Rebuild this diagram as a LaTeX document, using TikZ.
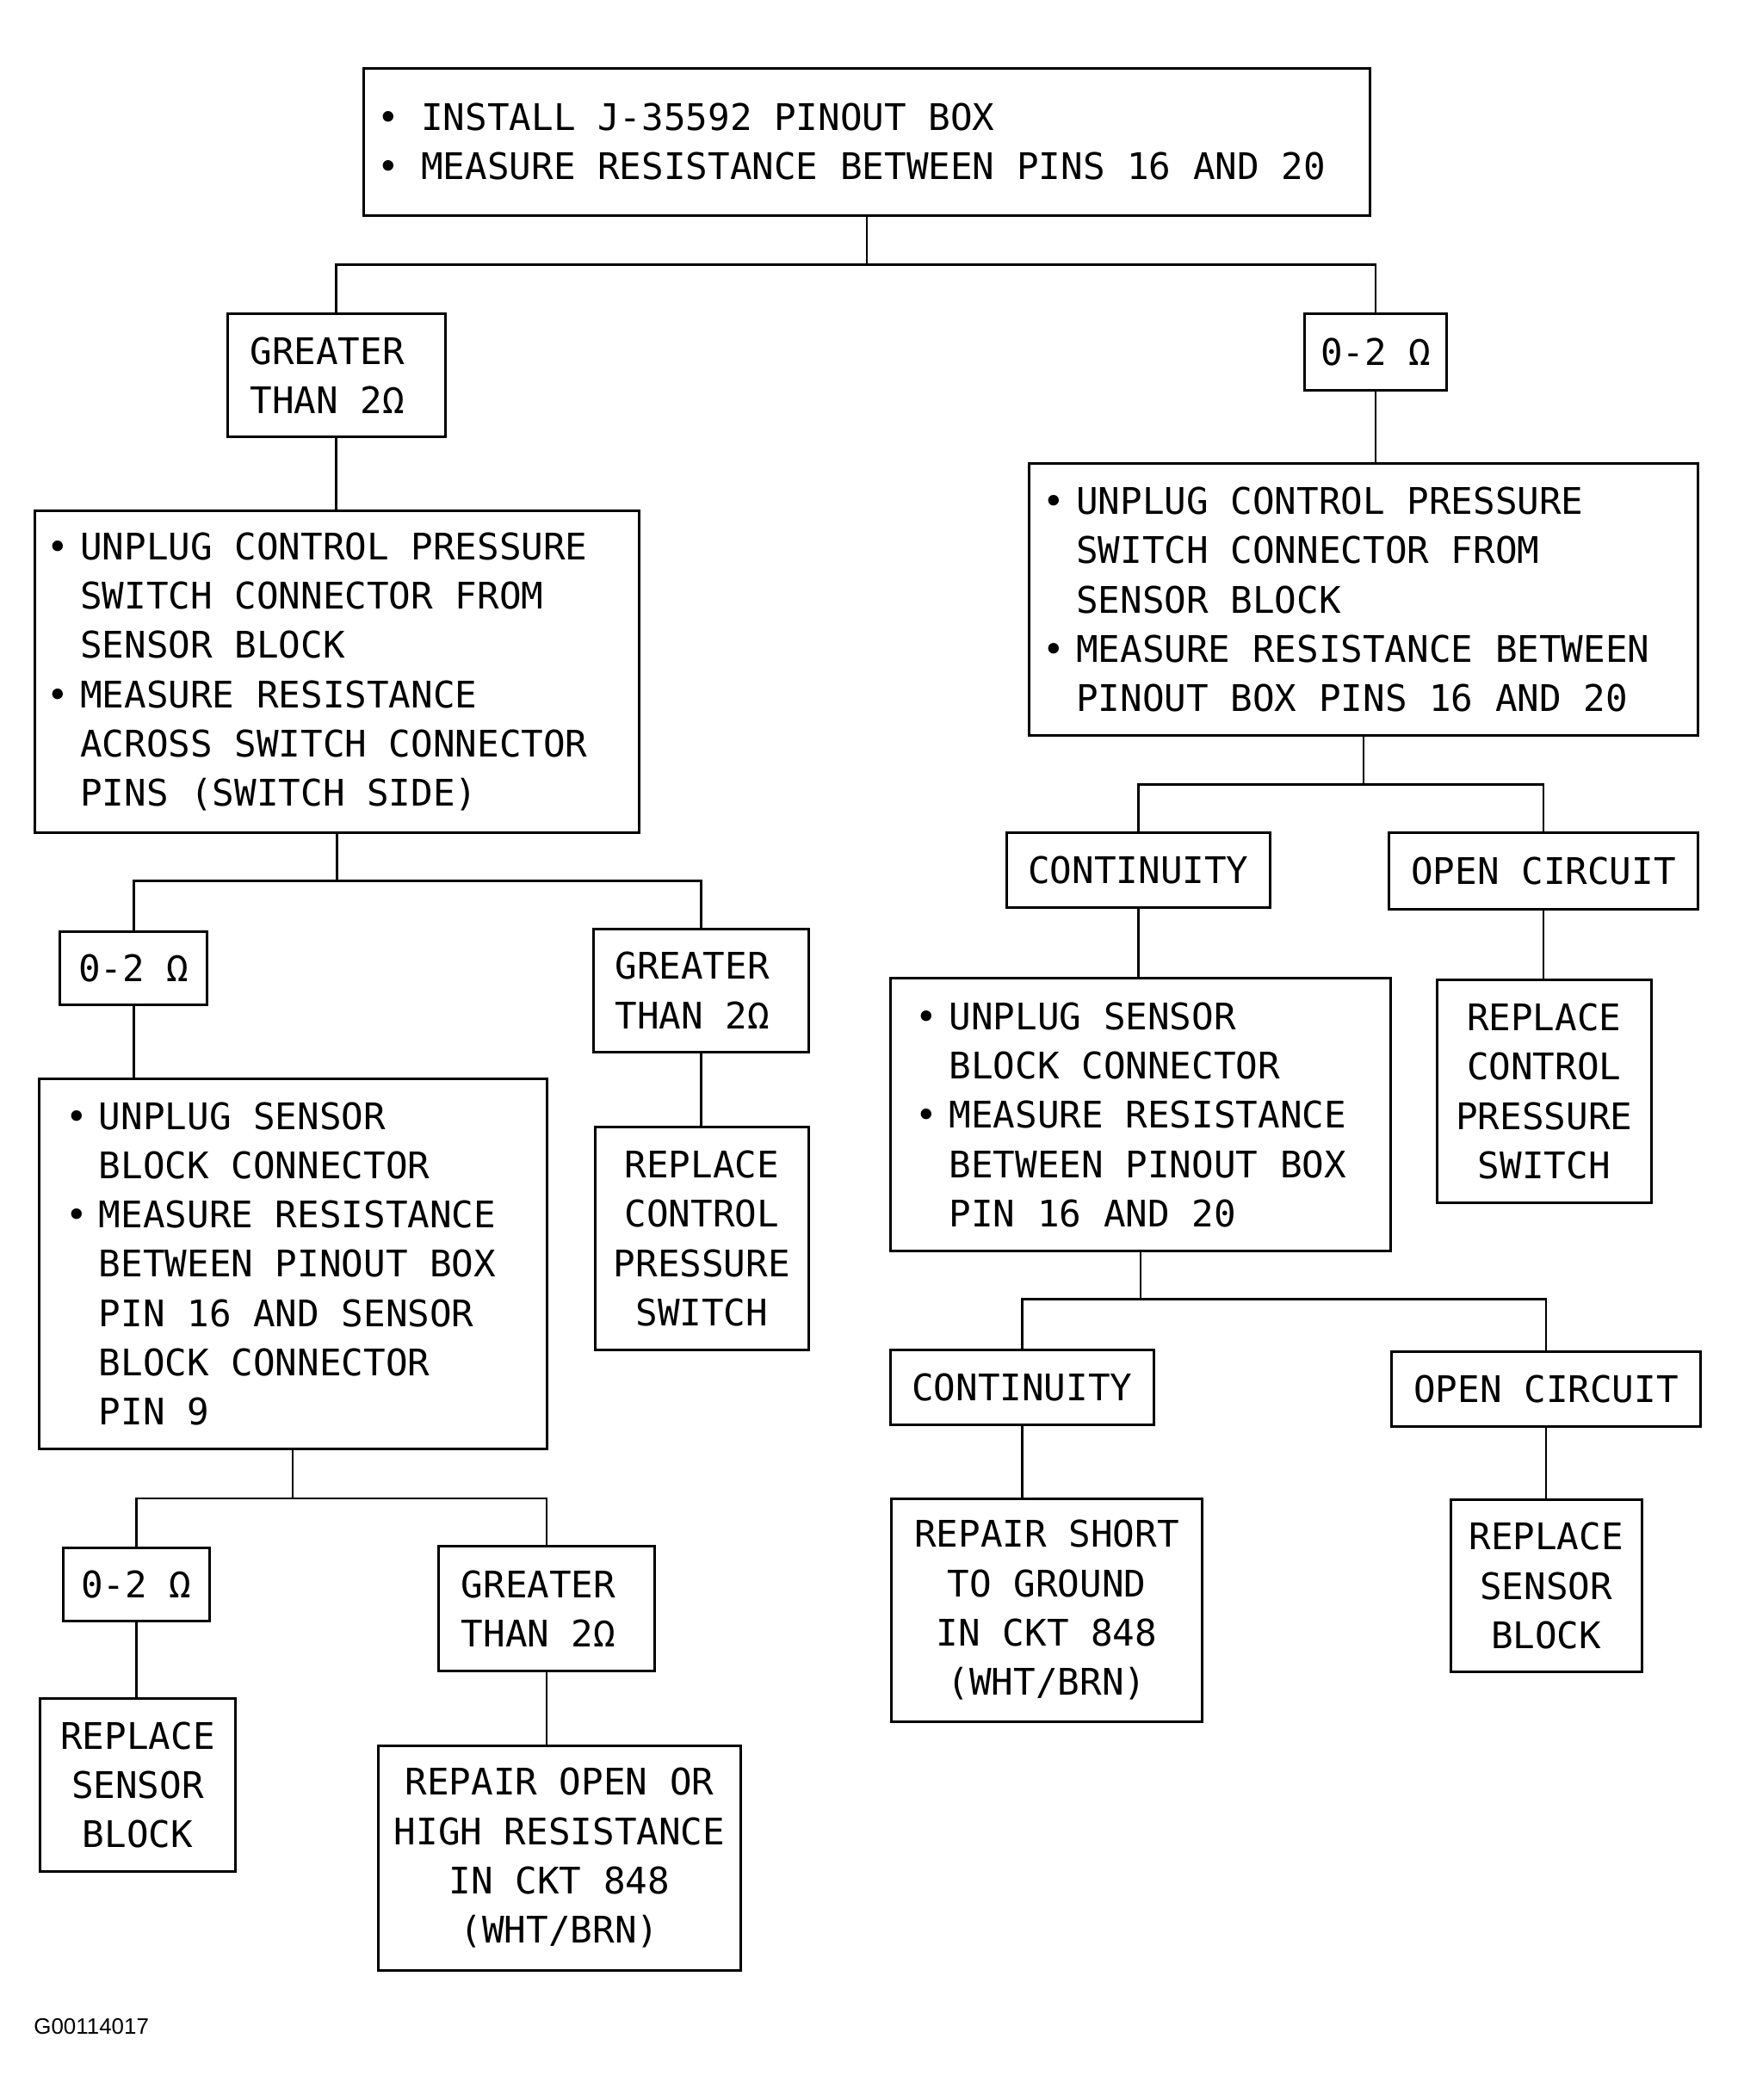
\documentclass[tikz,border=0pt]{standalone}
\usepackage{fontspec}
\setmainfont{DejaVu Sans Mono}
\newfontfamily\labelfont{Liberation Sans}
\newcommand\bul[1][0.5cm]{\makebox[#1][l]{•}}
\newcommand\indt[1][0.5cm]{\hspace*{#1}}
\tikzset{
  box/.style={draw, line width=1.1pt, inner sep=0pt, font=\fontsize{15.6}{21}\selectfont,
    execute at begin node={\spaceskip=0.602em\relax\xspaceskip=0.602em\relax}},
  link/.style={line width=0.9pt},
}
\begin{document}
\begin{tikzpicture}[x=0.02cm,y=-0.02cm]
  \useasboundingbox (0,0) rectangle (1300,1571.1);
  % top step
  \node[box, minimum width=15.06cm, minimum height=2.2cm, text width=14.66cm, align=left] (install) at (648.5,106)
    {\bul[0.66cm]INSTALL J-35592 PINOUT BOX\\ \bul[0.66cm]MEASURE RESISTANCE BETWEEN PINS 16 AND 20};
  \node[box, minimum width=3.26cm, minimum height=1.84cm, text width=2.58cm, align=left] (gtA) at (251.5,281) {GREATER\\THAN 2Ω};
  \node[box, minimum width=2.12cm, minimum height=1.14cm] (zeroA) at (1029,263.5) {0-2 Ω};
  % left branch
  \node[box, minimum width=9.04cm, minimum height=4.82cm, text width=8.68cm, align=left] (unplugL) at (252,502.5)
    {\bul UNPLUG CONTROL PRESSURE\\ \indt SWITCH CONNECTOR FROM\\ \indt SENSOR BLOCK\\
     \bul MEASURE RESISTANCE\\ \indt ACROSS SWITCH CONNECTOR\\ \indt PINS (SWITCH SIDE)};
  \node[box, minimum width=2.2cm, minimum height=1.1cm] (zeroB) at (100,724.5) {0-2 Ω};
  \node[box, minimum width=3.22cm, minimum height=1.84cm, text width=2.58cm, align=left] (gtB) at (524.5,741) {GREATER\\THAN 2Ω};
  \node[box, minimum width=3.2cm, minimum height=3.34cm, align=center] (switchL) at (525,926.5) {REPLACE\\CONTROL\\PRESSURE\\SWITCH};
  \node[box, minimum width=7.6cm, minimum height=5.54cm, text width=6.8cm, align=left] (sensorL) at (219,945.5)
    {\bul UNPLUG SENSOR\\ \indt BLOCK CONNECTOR\\ \bul MEASURE RESISTANCE\\ \indt BETWEEN PINOUT BOX\\
     \indt PIN 16 AND SENSOR\\ \indt BLOCK CONNECTOR\\ \indt PIN 9};
  \node[box, minimum width=2.2cm, minimum height=1.1cm] (zeroC) at (102,1185.5) {0-2 Ω};
  \node[box, minimum width=3.24cm, minimum height=1.86cm, text width=2.56cm, align=left] (gtC) at (409,1203.5) {GREATER\\THAN 2Ω};
  \node[box, minimum width=2.92cm, minimum height=2.58cm, align=center] (blockL) at (103,1335.5) {REPLACE\\SENSOR\\BLOCK};
  \node[box, minimum width=5.42cm, minimum height=3.36cm, align=center] (openL) at (418.5,1390)
    {REPAIR OPEN OR\\HIGH RESISTANCE\\IN CKT 848\\(WHT/BRN)};
  % right branch
  \node[box, minimum width=10cm, minimum height=4.06cm, text width=9.6cm, align=left] (unplugR) at (1020,448.5)
    {\bul UNPLUG CONTROL PRESSURE\\ \indt SWITCH CONNECTOR FROM\\ \indt SENSOR BLOCK\\
     \bul MEASURE RESISTANCE BETWEEN\\ \indt PINOUT BOX PINS 16 AND 20};
  \node[box, minimum width=3.94cm, minimum height=1.12cm] (contA) at (851.5,651) {CONTINUITY};
  \node[box, minimum width=4.62cm, minimum height=1.14cm] (openA) at (1154.5,651.5) {OPEN CIRCUIT};
  \node[box, minimum width=3.2cm, minimum height=3.34cm, align=center] (switchR) at (1155,816.5) {REPLACE\\CONTROL\\PRESSURE\\SWITCH};
  \node[box, minimum width=7.48cm, minimum height=4.08cm, text width=6.72cm, align=left] (sensorR) at (853,834)
    {\bul UNPLUG SENSOR\\ \indt BLOCK CONNECTOR\\ \bul MEASURE RESISTANCE\\ \indt BETWEEN PINOUT BOX\\ \indt PIN 16 AND 20};
  \node[box, minimum width=3.94cm, minimum height=1.12cm] (contB) at (764.5,1038) {CONTINUITY};
  \node[box, minimum width=4.62cm, minimum height=1.12cm] (openB) at (1156.5,1039) {OPEN CIRCUIT};
  \node[box, minimum width=4.64cm, minimum height=3.34cm, align=center] (shortR) at (783,1204.5)
    {REPAIR SHORT\\TO GROUND\\IN CKT 848\\(WHT/BRN)};
  \node[box, minimum width=2.86cm, minimum height=2.58cm, align=center] (blockR) at (1156.5,1186.5) {REPLACE\\SENSOR\\BLOCK};
  \node[font=\labelfont\fontsize{9.5}{11}\selectfont, anchor=west, inner sep=0pt] (figno) at (25,1516) {G00114017};
  % branch points
  \coordinate (b1) at (648.5,198);
  \coordinate (b2) at (252,659);
  \coordinate (b3) at (219,1121);
  \coordinate (b4) at (1020,587);
  \coordinate (b5) at (853,972);
  % connectors
  \draw[link] (install.south) -- (b1);
  \draw[link] (gtA.north) |- (b1) -| (zeroA.north);
  \draw[link] (gtA.south) -- (gtA.south |- unplugL.north);
  \draw[link] (zeroA.south) -- (zeroA.south |- unplugR.north);
  \draw[link] (unplugL.south) -- (b2);
  \draw[link] (zeroB.north) |- (b2) -| (gtB.north);
  \draw[link] (zeroB.south) -- (zeroB.south |- sensorL.north);
  \draw[link] (gtB.south) -- (gtB.south |- switchL.north);
  \draw[link] (sensorL.south) -- (b3);
  \draw[link] (zeroC.north) |- (b3) -| (gtC.north);
  \draw[link] (zeroC.south) -- (zeroC.south |- blockL.north);
  \draw[link] (gtC.south) -- (gtC.south |- openL.north);
  \draw[link] (unplugR.south) -- (b4);
  \draw[link] (contA.north) |- (b4) -| (openA.north);
  \draw[link] (openA.south) -- (openA.south |- switchR.north);
  \draw[link] (contA.south) -- (contA.south |- sensorR.north);
  \draw[link] (sensorR.south) -- (b5);
  \draw[link] (contB.north) |- (b5) -| (openB.north);
  \draw[link] (contB.south) -- (contB.south |- shortR.north);
  \draw[link] (openB.south) -- (openB.south |- blockR.north);
\end{tikzpicture}
\end{document}
